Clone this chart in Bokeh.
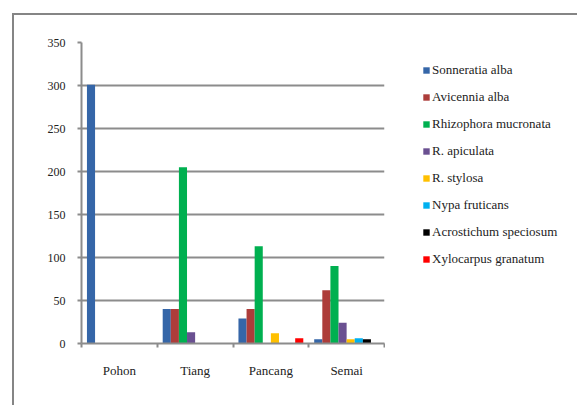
from bokeh.plotting import figure
from bokeh.layouts import row
from bokeh.models import (ColumnDataSource, FixedTicker, Legend, LegendItem,
                          Range1d)
from bokeh.transform import dodge
from bokeh.embed import file_html
from bokeh.resources import INLINE

# Stand structure classes on the x axis
categories = ["Pohon", "Tiang", "Pancang", "Semai"]

# Species (series) and their counts per class
species = [
    "Sonneratia alba",
    "Avicennia alba",
    "Rhizophora mucronata",
    "R. apiculata",
    "R. stylosa",
    "Nypa fruticans",
    "Acrostichum speciosum",
    "Xylocarpus granatum",
]
sonneratia_alba = [301, 40, 29, 5]
avicennia_alba = [0, 40, 40, 62]
rhizophora_mucronata = [0, 205, 113, 90]
r_apiculata = [0, 13, 0, 24]
r_stylosa = [0, 0, 12, 5]
nypa_fruticans = [0, 0, 0, 6]
acrostichum_speciosum = [0, 0, 0, 5]
xylocarpus_granatum = [0, 0, 6, 0]

series = [sonneratia_alba, avicennia_alba, rhizophora_mucronata, r_apiculata,
          r_stylosa, nypa_fruticans, acrostichum_speciosum, xylocarpus_granatum]
colors = ["#3566a8", "#ad3d3a", "#00b050", "#6a5091",
          "#ffc000", "#00b0f0", "#000000", "#ff0000"]

y_ticks = [0, 50, 100, 150, 200, 250, 300, 350]

FONT = "'Liberation Serif', 'DejaVu Serif', serif"
GRID = "#8c8c8c"
EDGE = "#858585"

# the chart-area frame (left and top edges) is painted as a CSS background
# behind the transparent canvases
chart_area_css = {
    "background-color": "white",
    "background-image": f"linear-gradient({EDGE}, {EDGE}), linear-gradient({EDGE}, {EDGE})",
    "background-size": "2px 100%, 100% 2px",
    "background-position": "12px 13px, 12px 13px",
    "background-repeat": "no-repeat",
}

# ---- bar chart -------------------------------------------------------------
p = figure(width=385, height=405, output_backend="svg", toolbar_location=None,
           title=None,
           x_range=Range1d(0, len(categories)), y_range=Range1d(0, 350),
           min_border_left=81, min_border_right=1,
           min_border_top=42, min_border_bottom=62)
p.outline_line_color = None
p.background_fill_color = "white"
p.border_fill_color = None

# category centres on a numeric axis, so the tick marks can sit between groups
centres = [i + 0.5 for i in range(len(categories))]
src = ColumnDataSource(dict(xc=centres, **{f"s{j}": s for j, s in enumerate(series)}))

bar_w = 0.107
for j, col in enumerate(colors):
    off = (j - (len(species) - 1) / 2) * bar_w
    p.vbar(x=dodge("xc", off, range=p.x_range), top=f"s{j}", bottom=0,
           width=bar_w, source=src, fill_color=col, line_color=None)

p.xgrid.grid_line_color = None
p.ygrid.grid_line_color = GRID
p.ygrid.grid_line_width = 2
p.yaxis.ticker = FixedTicker(ticks=y_ticks)
p.yaxis.axis_line_color = GRID
p.yaxis.axis_line_width = 2
p.yaxis.major_tick_line_color = GRID
p.yaxis.major_tick_line_width = 2
p.yaxis.major_tick_out = 4
p.yaxis.major_tick_in = 0
p.yaxis.minor_tick_line_color = None
p.yaxis.major_label_standoff = 12
p.yaxis.major_label_text_font = FONT
p.yaxis.major_label_text_font_size = "12px"
p.yaxis.major_label_text_color = "#222222"

p.xaxis.ticker = FixedTicker(ticks=centres,
                             minor_ticks=list(range(len(categories) + 1)))
p.xaxis.major_label_overrides = {c: lab for c, lab in zip(centres, categories)}
p.xaxis.axis_line_color = GRID
p.xaxis.axis_line_width = 2
p.xaxis.major_tick_line_color = None
p.xaxis.major_tick_out = 0
p.xaxis.major_tick_in = 0
p.xaxis.minor_tick_line_color = GRID
p.xaxis.minor_tick_line_width = 2
p.xaxis.minor_tick_out = 4
p.xaxis.minor_tick_in = 0
p.xaxis.major_label_standoff = 15
p.xaxis.major_label_text_font = FONT
p.xaxis.major_label_text_font_size = "13px"
p.xaxis.major_label_text_color = "#222222"

# ---- legend panel ----------------------------------------------------------
lg = figure(width=192, height=405, output_backend="svg", toolbar_location=None,
            title=None, x_axis_type=None, y_axis_type=None,
            x_range=Range1d(0, 1), y_range=Range1d(0, 1),
            min_border_left=0, min_border_right=0,
            min_border_top=0, min_border_bottom=0)
lg.outline_line_color = None
lg.background_fill_color = None
lg.border_fill_color = None
lg.grid.visible = False

# hidden copies of the series that only supply the legend keys
keys = [lg.vbar(x="xc", top=f"s{j}", width=bar_w, source=src,
                fill_color=col, line_color=None, visible=False)
        for j, col in enumerate(colors)]

legend = Legend(
    items=[LegendItem(label=n, renderers=[r]) for n, r in zip(species, keys)],
    location=(37, 76), orientation="vertical",
    glyph_width=8, glyph_height=8, label_standoff=2,
    label_height=16, spacing=11, padding=0, margin=0,
    label_text_font=FONT, label_text_font_size="13px",
    label_text_color="#222222",
    border_line_color=None, background_fill_alpha=0,
)
lg.add_layout(legend)

layout = row(p, lg, spacing=0, styles=chart_area_css)

open("out.html", "w").write(file_html(layout, INLINE))
